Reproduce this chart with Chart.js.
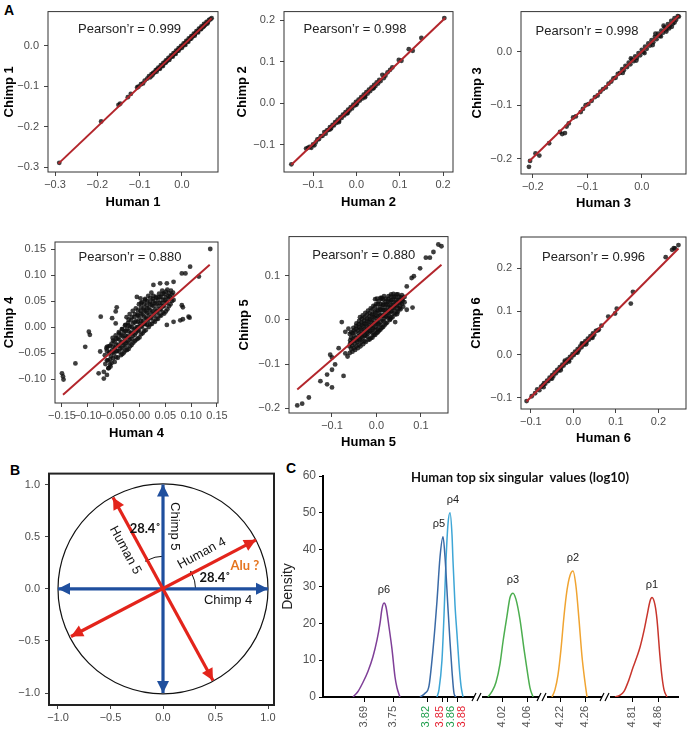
<!DOCTYPE html>
<html lang="en">
<head>
<meta charset="UTF-8">
<title>Human vs chimp singular vectors</title>
<script src="https://cdn.jsdelivr.net/npm/chart.js"></script>
<style>
  html, body { margin: 0; padding: 0; background: #fff; overflow: hidden; }
  body { width: 690px; height: 730px; position: relative; }
  .tag { position: absolute; font: bold 14px/14px "Liberation Sans", Arial, sans-serif; color: #000; }
</style>
</head>
<body>
<div class="tag" style="left:4px;top:3px">A</div>
<div class="tag" style="left:10px;top:463px">B</div>
<div class="tag" style="left:286px;top:461px">C</div>
<script>
// ---------- panel A data ----------
const pearson = ['0.999', '0.998', '0.998', '0.880', '0.880', '0.996'];
const humanNames = ['Human 1', 'Human 2', 'Human 3', 'Human 4', 'Human 5', 'Human 6'];
const chimpNames = ['Chimp 1', 'Chimp 2', 'Chimp 3', 'Chimp 4', 'Chimp 5', 'Chimp 6'];

const ticks1X = [-0.3, -0.2, -0.1, 0.0];
const ticks1Y = [-0.3, -0.2, -0.1, 0.0];
const ticks2X = [-0.1, 0.0, 0.1, 0.2];
const ticks2Y = [-0.1, 0.0, 0.1, 0.2];
const ticks3X = [-0.2, -0.1, 0.0];
const ticks3Y = [-0.2, -0.1, 0.0];
const ticks4X = [-0.15, -0.10, -0.05, 0.00, 0.05, 0.10, 0.15];
const ticks4Y = [-0.10, -0.05, 0.00, 0.05, 0.10, 0.15];
const ticks5X = [-0.1, 0.0, 0.1];
const ticks5Y = [-0.2, -0.1, 0.0, 0.1];
const ticks6X = [-0.1, 0.0, 0.1, 0.2];
const ticks6Y = [-0.1, 0.0, 0.1, 0.2];

const fit1 = [[-0.292, -0.291], [0.070, 0.068]];
const fit2 = [[-0.150, -0.149], [0.205, 0.205]];
const fit3 = [[-0.207, -0.205], [0.068, 0.067]];
const fit4 = [[-0.148, -0.130], [0.136, 0.120]];
const fit5 = [[-0.178, -0.158], [0.146, 0.125]];
const fit6 = [[-0.110, -0.108], [0.247, 0.245]];

const pts1 = [
  [-0.290,-0.289],[-0.191,-0.187],[-0.150,-0.146],[-0.146,-0.143],[-0.128,-0.127],[-0.121,-0.119],[-0.106,-0.103],
  [-0.103,-0.101],[-0.097,-0.095],[-0.092,-0.093],[-0.088,-0.086],[-0.082,-0.081],[-0.078,-0.075],[-0.075,-0.078],
  [-0.072,-0.070],[-0.068,-0.067],[-0.065,-0.066],[-0.062,-0.060],[-0.059,-0.059],[-0.056,-0.054],[-0.053,-0.055],
  [-0.050,-0.048],[-0.047,-0.049],[-0.044,-0.042],[-0.041,-0.043],[-0.038,-0.036],[-0.035,-0.037],[-0.032,-0.030],
  [-0.029,-0.031],[-0.026,-0.024],[-0.023,-0.025],[-0.020,-0.018],[-0.017,-0.019],[-0.014,-0.012],[-0.011,-0.013],
  [-0.008,-0.006],[-0.005,-0.007],[-0.002,0.000],[0.001,-0.001],[0.004,0.006],[0.007,0.005],[0.010,0.012],
  [0.013,0.011],[0.016,0.018],[0.019,0.017],[0.022,0.024],[0.025,0.023],[0.028,0.030],[0.031,0.029],[0.034,0.036],
  [0.037,0.035],[0.040,0.042],[0.043,0.041],[0.046,0.048],[0.049,0.046],[0.052,0.054],[0.055,0.052],[0.058,0.059],
  [0.061,0.058],[0.064,0.064],[0.067,0.065],[0.070,0.068],[-0.060,-0.064],[-0.045,-0.050],[-0.030,-0.035],
  [-0.015,-0.020],[0.000,-0.005],[0.015,0.010],[0.030,0.025],[0.045,0.041],[0.060,0.055],[-0.070,-0.073],
  [-0.052,-0.057],[-0.038,-0.041],[-0.022,-0.027],[-0.008,-0.012],[0.008,0.002],[0.022,0.018],[0.038,0.033],[0.052,0.048]
];
const pts2 = [
  [-0.150,-0.148],[-0.116,-0.110],[-0.112,-0.108],[-0.108,-0.106],[-0.104,-0.108],[-0.100,-0.100],[-0.097,-0.102],
  [-0.094,-0.095],[-0.090,-0.088],[-0.086,-0.087],[-0.082,-0.080],[-0.078,-0.079],[-0.074,-0.070],[-0.071,-0.074],
  [-0.068,-0.066],[-0.064,-0.065],[-0.061,-0.058],[-0.058,-0.060],[-0.055,-0.053],[-0.052,-0.054],[-0.049,-0.046],
  [-0.046,-0.048],[-0.043,-0.040],[-0.040,-0.043],[-0.037,-0.034],[-0.034,-0.036],[-0.031,-0.028],[-0.028,-0.030],
  [-0.025,-0.022],[-0.022,-0.025],[-0.019,-0.016],[-0.016,-0.018],[-0.013,-0.010],[-0.010,-0.013],[-0.007,-0.004],
  [-0.004,-0.006],[-0.001,0.003],[0.002,0.000],[0.005,0.008],[0.008,0.006],[0.011,0.014],[0.014,0.011],[0.017,0.020],
  [0.020,0.017],[0.023,0.026],[0.026,0.023],[0.029,0.032],[0.032,0.029],[0.035,0.038],[0.038,0.035],[0.041,0.044],
  [0.044,0.041],[0.047,0.050],[0.050,0.047],[0.053,0.056],[0.056,0.053],[0.060,0.068],[0.063,0.060],[0.067,0.066],
  [0.072,0.074],[0.078,0.080],[0.083,0.086],[0.098,0.104],[0.104,0.102],[0.121,0.130],[0.130,0.126],[0.150,0.157],
  [0.203,0.205],[-0.020,-0.024],[0.000,-0.004],[0.020,0.014],[0.040,0.036],[-0.040,-0.046],[-0.060,-0.063]
];
const pts3 = [
  [-0.207,-0.215],[-0.205,-0.204],[-0.195,-0.190],[-0.188,-0.194],[-0.170,-0.171],[-0.150,-0.150],[-0.146,-0.154],
  [-0.141,-0.152],[-0.138,-0.140],[-0.134,-0.134],[-0.126,-0.123],[-0.121,-0.121],[-0.112,-0.113],[-0.108,-0.107],
  [-0.103,-0.100],[-0.098,-0.098],[-0.092,-0.092],[-0.086,-0.085],[-0.081,-0.082],[-0.076,-0.075],[-0.071,-0.070],
  [-0.066,-0.067],[-0.061,-0.060],[-0.056,-0.056],[-0.052,-0.050],[-0.048,-0.049],[-0.044,-0.042],[-0.040,-0.040],
  [-0.036,-0.033],[-0.033,-0.035],[-0.030,-0.027],[-0.027,-0.029],[-0.024,-0.021],[-0.021,-0.024],[-0.018,-0.015],
  [-0.015,-0.018],[-0.012,-0.009],[-0.009,-0.012],[-0.006,-0.003],[-0.003,-0.007],[0.000,0.003],[0.003,-0.001],
  [0.006,0.009],[0.009,0.005],[0.012,0.015],[0.015,0.011],[0.018,0.021],[0.021,0.017],[0.024,0.027],[0.027,0.023],
  [0.030,0.033],[0.033,0.029],[0.036,0.039],[0.039,0.035],[0.042,0.045],[0.045,0.041],[0.048,0.051],[0.051,0.047],
  [0.054,0.057],[0.057,0.052],[0.060,0.062],[0.063,0.059],[0.066,0.066],[0.068,0.065],[-0.010,-0.017],[0.005,-0.003],
  [0.020,0.012],[0.035,0.028],[0.050,0.043],[0.055,0.046],[0.040,0.048],[0.025,0.033],[-0.020,-0.013],[-0.035,-0.040],
  [0.060,0.054],[0.045,0.037]
];
const pts4 = [
  [0.137,0.150],[0.098,0.116],[0.115,0.097],[0.082,0.103],[0.089,0.103],[0.066,0.087],[0.053,0.084],[0.040,0.084],
  [0.027,0.081],[0.082,0.042],[0.084,0.038],[0.079,0.013],[0.084,0.015],[0.095,0.020],[0.097,0.018],[0.066,0.010],
  [0.053,0.004],[-0.075,0.020],[-0.053,0.017],[-0.046,0.007],[-0.098,-0.009],[-0.096,-0.015],[-0.105,-0.038],
  [-0.124,-0.070],[-0.150,-0.089],[-0.147,-0.101],[-0.148,-0.095],[-0.079,-0.089],[-0.069,-0.086],[-0.069,-0.099],
  [-0.063,-0.092],[-0.060,-0.079],[-0.056,-0.076],[-0.076,-0.047],[-0.063,-0.038],[-0.046,0.030],[-0.044,0.038],
  [0.011,0.052],[0.002,0.055],[-0.005,0.058],
  [-0.066,-0.071],[-0.067,-0.054],[-0.064,-0.041],
  [-0.060,-0.079],[-0.061,-0.064],[-0.059,-0.050],[-0.060,-0.037],
  [-0.054,-0.069],[-0.055,-0.056],[-0.053,-0.045],[-0.054,-0.032],[-0.052,-0.021],
  [-0.048,-0.067],[-0.049,-0.051],[-0.047,-0.040],[-0.048,-0.028],[-0.046,-0.016],
  [-0.042,-0.059],[-0.043,-0.046],[-0.041,-0.034],[-0.042,-0.022],[-0.040,-0.010],
  [-0.036,-0.054],[-0.037,-0.041],[-0.035,-0.029],[-0.036,-0.016],[-0.034,-0.004],
  [-0.030,-0.049],[-0.031,-0.035],[-0.029,-0.022],[-0.030,-0.010],[-0.028,0.003],
  [-0.024,-0.044],[-0.025,-0.030],[-0.023,-0.017],[-0.024,-0.004],[-0.022,0.008],[-0.025,0.019],
  [-0.018,-0.037],[-0.019,-0.024],[-0.017,-0.011],[-0.018,0.001],[-0.016,0.013],[-0.019,0.025],
  [-0.012,-0.030],[-0.013,-0.017],[-0.011,-0.005],[-0.012,0.007],[-0.010,0.019],[-0.013,0.031],
  [-0.006,-0.024],[-0.007,-0.011],[-0.005,0.000],[-0.006,0.012],[-0.004,0.024],[-0.007,0.036],
  [0.000,-0.020],[-0.001,-0.006],[0.001,0.006],[0.000,0.018],[0.002,0.031],[-0.001,0.044],
  [0.006,-0.012],[0.005,0.000],[0.007,0.012],[0.006,0.024],[0.008,0.036],[0.005,0.048],
  [0.012,-0.006],[0.011,0.006],[0.013,0.018],[0.012,0.030],[0.014,0.042],[0.011,0.054],
  [0.018,0.000],[0.017,0.012],[0.019,0.024],[0.018,0.036],[0.020,0.048],[0.017,0.060],
  [0.024,0.006],[0.023,0.018],[0.025,0.030],[0.024,0.042],[0.026,0.054],[0.023,0.066],
  [0.030,0.010],[0.029,0.022],[0.031,0.034],[0.030,0.046],[0.032,0.058],
  [0.036,0.016],[0.035,0.028],[0.037,0.040],[0.036,0.052],[0.038,0.064],
  [0.042,0.022],[0.041,0.034],[0.043,0.046],[0.042,0.058],[0.044,0.070],
  [0.048,0.026],[0.047,0.040],[0.049,0.052],[0.048,0.064],
  [0.054,0.034],[0.053,0.048],[0.055,0.060],[0.054,0.072],
  [0.060,0.044],[0.059,0.058],[0.061,0.070],[0.066,0.052],[0.065,0.066],
  [-0.045,-0.058],[-0.039,-0.047],[-0.033,-0.041],[-0.027,-0.027],[-0.021,-0.020],[-0.015,-0.023],[-0.009,-0.003],
  [-0.003,0.010],[0.003,0.002],[0.009,0.020],[0.015,0.027],[0.021,0.032],[0.027,0.040],[0.033,0.045],[0.039,0.058],
  [0.045,0.052],[0.051,0.057],[0.057,0.065],[-0.057,-0.062],[-0.051,-0.038],[0.003,0.038],[0.015,0.004],
  [-0.027,-0.008],[0.033,0.016],
  [-0.063,-0.064],[-0.063,-0.046],[-0.057,-0.072],[-0.057,-0.048],[-0.057,-0.036],[-0.051,-0.060],[-0.051,-0.048],
  [-0.051,-0.026],[-0.045,-0.046],[-0.045,-0.034],[-0.045,-0.022],[-0.039,-0.036],[-0.039,-0.024],[-0.039,-0.012],
  [-0.033,-0.052],[-0.033,-0.030],[-0.033,-0.017],[-0.033,-0.004],[-0.027,-0.045],[-0.027,-0.036],[-0.027,-0.017],
  [-0.027,0.004],[-0.021,-0.042],[-0.021,-0.030],[-0.021,-0.008],[-0.021,0.003],[-0.021,0.014],[-0.015,-0.034],
  [-0.015,-0.012],[-0.015,0.000],[-0.015,0.019],[-0.009,-0.027],[-0.009,-0.015],[-0.009,0.009],[-0.009,0.025],
  [-0.003,-0.022],[-0.003,-0.008],[-0.003,0.000],[-0.003,0.022],[-0.003,0.032],[0.003,-0.014],[0.003,0.012],
  [0.003,0.026],[0.003,0.046],[0.009,-0.008],[0.009,0.006],[0.009,0.032],[0.009,0.044],[0.015,0.015],[0.015,0.036],
  [0.015,0.050],[0.021,0.005],[0.021,0.018],[0.021,0.044],[0.021,0.056],[0.027,0.012],[0.027,0.026],[0.027,0.050],
  [0.027,0.060],[0.033,0.030],[0.033,0.056],[0.039,0.022],[0.039,0.034],[0.039,0.046],[0.045,0.028],[0.045,0.040],
  [0.045,0.064],[0.051,0.030],[0.051,0.046],[0.051,0.068],[0.057,0.040],[0.057,0.054],[0.063,0.050],[0.063,0.062]
];
const pts5 = [
  [0.139,0.171],[0.146,0.167],[0.128,0.154],[0.120,0.141],[0.111,0.141],[0.098,0.117],[0.079,0.095],[0.084,0.099],
  [0.068,0.076],[0.081,0.028],[0.068,0.023],[0.053,0.028],[0.012,0.050],[-0.003,0.047],[-0.078,-0.005],
  [-0.070,-0.027],[-0.085,-0.064],[-0.070,-0.076],[-0.065,-0.083],[-0.104,-0.079],[-0.100,-0.085],[-0.093,-0.101],
  [-0.100,-0.113],[-0.111,-0.124],[-0.126,-0.139],[-0.111,-0.146],[-0.100,-0.153],[-0.074,-0.127],[-0.152,-0.176],
  [-0.178,-0.194],[-0.167,-0.190],[-0.063,-0.020],[-0.059,-0.053],[0.031,0.002],[0.042,-0.005],[0.046,0.013],
  [-0.060,-0.075],[-0.061,-0.060],[-0.059,-0.046],[-0.060,-0.032],
  [-0.054,-0.072],[-0.055,-0.058],[-0.053,-0.044],[-0.054,-0.030],[-0.052,-0.018],
  [-0.048,-0.068],[-0.049,-0.054],[-0.047,-0.041],[-0.048,-0.028],[-0.046,-0.014],
  [-0.042,-0.064],[-0.043,-0.050],[-0.041,-0.037],[-0.042,-0.024],[-0.040,-0.010],
  [-0.036,-0.060],[-0.037,-0.046],[-0.035,-0.033],[-0.036,-0.020],[-0.034,-0.006],[-0.037,0.006],
  [-0.030,-0.055],[-0.031,-0.041],[-0.029,-0.028],[-0.030,-0.015],[-0.028,-0.002],[-0.031,0.010],
  [-0.024,-0.050],[-0.025,-0.036],[-0.023,-0.023],[-0.024,-0.010],[-0.022,0.003],[-0.025,0.016],
  [-0.018,-0.045],[-0.019,-0.031],[-0.017,-0.018],[-0.018,-0.005],[-0.016,0.008],[-0.019,0.021],
  [-0.012,-0.040],[-0.013,-0.026],[-0.011,-0.013],[-0.012,0.000],[-0.010,0.013],[-0.013,0.026],
  [-0.006,-0.034],[-0.007,-0.020],[-0.005,-0.007],[-0.006,0.006],[-0.004,0.019],[-0.007,0.032],
  [0.000,-0.030],[-0.001,-0.016],[0.001,-0.003],[0.000,0.010],[0.002,0.023],[-0.001,0.036],[0.001,0.048],
  [0.006,-0.024],[0.005,-0.010],[0.007,0.003],[0.006,0.016],[0.008,0.029],[0.005,0.042],
  [0.012,-0.018],[0.011,-0.004],[0.013,0.009],[0.012,0.022],[0.014,0.035],[0.011,0.048],
  [0.018,-0.012],[0.017,0.002],[0.019,0.015],[0.018,0.028],[0.020,0.041],[0.017,0.054],
  [0.024,-0.006],[0.023,0.008],[0.025,0.021],[0.024,0.034],[0.026,0.047],
  [0.030,0.000],[0.029,0.014],[0.031,0.027],[0.030,0.040],[0.032,0.053],
  [0.036,0.006],[0.035,0.020],[0.037,0.033],[0.036,0.046],[0.038,0.059],
  [0.042,0.012],[0.041,0.026],[0.043,0.039],[0.042,0.052],
  [0.048,0.018],[0.047,0.032],[0.049,0.045],[0.048,0.058],
  [0.054,0.024],[0.053,0.038],[0.055,0.051],[0.060,0.030],[0.059,0.044],
  [-0.045,-0.060],[-0.039,-0.030],[-0.033,-0.050],[-0.027,-0.008],[-0.021,-0.038],[-0.015,0.002],[-0.009,-0.030],
  [-0.003,0.016],[0.003,-0.020],[0.009,0.024],[0.015,-0.002],[0.021,0.036],[0.027,0.004],[0.033,0.045],
  [0.039,0.015],[0.045,0.034],[0.051,0.040],[-0.057,-0.052],[-0.051,-0.024],[0.057,0.036],
  [-0.057,-0.066],[-0.057,-0.040],[-0.057,-0.028],[-0.051,-0.064],[-0.051,-0.048],[-0.051,-0.036],[-0.045,-0.046],
  [-0.045,-0.020],[-0.045,-0.008],[-0.039,-0.056],[-0.039,-0.043],[-0.039,-0.016],[-0.039,-0.002],[-0.033,-0.038],
  [-0.033,-0.024],[-0.033,-0.011],[-0.033,0.002],[-0.027,-0.048],[-0.027,-0.034],[-0.027,-0.020],[-0.027,0.006],
  [-0.021,-0.028],[-0.021,-0.015],[-0.021,-0.002],[-0.021,0.012],[-0.015,-0.044],[-0.015,-0.024],[-0.015,-0.010],
  [-0.015,0.016],[-0.009,-0.040],[-0.009,-0.018],[-0.009,-0.004],[-0.009,0.010],[-0.009,0.024],[-0.003,-0.034],
  [-0.003,-0.024],[-0.003,-0.010],[-0.003,0.004],[-0.003,0.030],[0.003,-0.028],[0.003,-0.006],[0.003,0.008],
  [0.003,0.021],[0.003,0.036],[0.009,-0.022],[0.009,-0.012],[0.009,0.010],[0.009,0.036],[0.009,0.050],
  [0.015,-0.016],[0.015,0.010],[0.015,0.022],[0.015,0.034],[0.015,0.046],[0.021,-0.008],[0.021,0.008],
  [0.021,0.022],[0.021,0.048],[0.027,0.016],[0.027,0.030],[0.027,0.042],[0.027,0.054],[0.033,0.006],[0.033,0.020],
  [0.033,0.033],[0.033,0.058],[0.039,0.028],[0.039,0.040],[0.039,0.052],[0.045,0.020],[0.045,0.046],[0.045,0.058],
  [0.051,0.026],[0.051,0.052],[0.057,0.046],[0.057,0.056],[0.063,0.040],[0.063,0.052]
];
const pts6 = [
  [-0.110,-0.107],[-0.098,-0.096],[-0.090,-0.089],[-0.085,-0.080],[-0.080,-0.082],[-0.076,-0.074],[-0.072,-0.071],
  [-0.069,-0.066],[-0.066,-0.067],[-0.062,-0.060],[-0.059,-0.061],[-0.056,-0.053],[-0.053,-0.055],[-0.050,-0.047],
  [-0.047,-0.049],[-0.044,-0.041],[-0.041,-0.043],[-0.038,-0.035],[-0.035,-0.037],[-0.032,-0.029],[-0.029,-0.031],
  [-0.026,-0.023],[-0.023,-0.025],[-0.020,-0.017],[-0.017,-0.019],[-0.014,-0.011],[-0.011,-0.013],[-0.008,-0.005],
  [-0.005,-0.007],[-0.002,0.001],[0.001,-0.001],[0.004,0.007],[0.007,0.005],[0.010,0.013],[0.013,0.011],
  [0.016,0.019],[0.019,0.017],[0.022,0.025],[0.025,0.023],[0.028,0.031],[0.031,0.029],[0.034,0.037],[0.037,0.035],
  [0.040,0.043],[0.043,0.040],[0.046,0.049],[0.049,0.046],[0.053,0.055],[0.057,0.056],[0.060,0.058],[0.066,0.067],
  [0.082,0.088],[0.098,0.095],[0.102,0.106],[0.135,0.118],[0.140,0.145],[0.217,0.225],[0.232,0.242],[0.236,0.246],
  [0.239,0.245],[0.247,0.253],[-0.030,-0.036],[-0.010,-0.016],[0.010,0.005],[0.030,0.024],[-0.050,-0.055],
  [0.045,0.039],[-0.070,-0.075],[0.020,0.026],[-0.020,-0.014]
];

// ---------- panel B data ----------
const arrowHuman4 = [[-0.876, -0.457], [0.886, 0.470]];
const arrowHuman5 = [[0.476, -0.880], [-0.476, 0.876]];
const arrowChimp4 = [[-1.0, 0.0], [1.0, 0.0]];
const arrowChimp5 = [[0.0, -1.0], [0.0, 1.0]];
const ticksB = [-1.0, -0.5, 0.0, 0.5, 1.0];
const angleDeg = 28.4;

// ---------- panel C data (log10 singular value, density) ----------
const rhoNames = ['\u03c16', '\u03c15', '\u03c14', '\u03c13', '\u03c12', '\u03c11'];
const rho6X = [3.6675, 3.6777, 3.6880, 3.6982, 3.7084, 3.7166, 3.7227, 3.7268, 3.7309, 3.7349, 3.7411, 3.7472, 3.7533, 3.7574, 3.7635];
const rho6Y = [0, 1.5, 4, 7, 11, 15.5, 20, 24, 25.5, 24.5, 19, 13, 5.5, 2.5, 0];
const rho5X = [3.8044, 3.8146, 3.8228, 3.8289, 3.8350, 3.8391, 3.8453, 3.8514, 3.8555, 3.8616, 3.8657, 3.8698, 3.8739, 3.8780];
const rho5Y = [0, 1, 3, 10, 19, 26, 38, 43.5, 38, 24, 15, 7, 1, 0];
const rho4X = [3.8391, 3.8432, 3.8493, 3.8534, 3.8575, 3.8616, 3.8657, 3.8698, 3.8718, 3.8759, 3.8800, 3.8841, 3.8882, 3.8922];
const rho4Y = [0, 2, 10, 22, 37, 47, 50, 44, 37, 25, 17, 9, 3, 0];
const rho3X = [3.9976, 4.0040, 4.0104, 4.0168, 4.0216, 4.0280, 4.0328, 4.0376, 4.0424, 4.0488, 4.0552, 4.0600, 4.0648, 4.0696];
const rho3Y = [0, 1.5, 4, 9, 15, 22, 27, 28.2, 26.5, 21, 13, 7.5, 2.5, 0];
const rho2X = [4.2072, 4.2120, 4.2168, 4.2216, 4.2264, 4.2312, 4.2360, 4.2408, 4.2456, 4.2504, 4.2552, 4.2600, 4.2632];
const rho2Y = [0, 2, 6, 13, 22, 29, 33, 34.2, 30, 21, 11, 4, 0];
const rho1X = [4.7773, 4.7869, 4.7946, 4.8023, 4.8119, 4.8196, 4.8254, 4.8331, 4.8388, 4.8446, 4.8485, 4.8542, 4.8581, 4.8638, 4.8677, 4.8715, 4.8773];
const rho1Y = [0, 0.5, 1.5, 4, 8, 11, 13.5, 18, 22, 26, 27, 25, 21, 11, 5.5, 2, 0];
const cTickLabels = ['3.69', '3.75', '3.82', '3.85', '3.86', '3.88', '4.02', '4.06', '4.22', '4.26', '4.81', '4.86'];
const ticksCY = [0, 10, 20, 30, 40, 50, 60];

// ---------- styling / layout ----------
const FONT = '"Liberation Sans", Arial, sans-serif';
const CAL = 'Lato, "Open Sans", sans-serif';
Chart.defaults.font.family = FONT;

const rhoColors = ['#7f3f98', '#3a6aa6', '#3ea6d6', '#4cae4f', '#f0a431', '#c8352c'];
const rhoLabelDx = [0, -4, 3, 0, 0, 0];
const cTickColor = { '3.82': '#1d9e4b', '3.86': '#1d9e4b', '3.85': '#e41f2f', '3.88': '#e41f2f' };
const cTickDx = { '3.82': -2, '3.85': -2, '3.86': 3.5, '3.88': 5 };
// broken x-axis: real value -> position along axis (px of the 690 wide figure)
const cSegments = [
  { lo: 3.60, hi: 3.95, at: 3.69, px: 364, k: 489.5 },
  { lo: 3.95, hi: 4.15, at: 4.02, px: 502, k: 625 },
  { lo: 4.15, hi: 4.50, at: 4.22, px: 560, k: 625 },
  { lo: 4.50, hi: 5.00, at: 4.81, px: 632, k: 520 }
];
const cBreaks = [478, 543, 606];
function toAxis(v) {
  const s = cSegments.find(g => v >= g.lo && v < g.hi);
  return s.px + (v - s.at) * s.k;
}

const panels = [
  { pts: pts1, fit: fit1, tx: ticks1X, ty: ticks1Y, dec: 1, xr: [-0.3166, 0.0851], yr: [-0.3117, 0.0844],
    box: { left: 0, top: 0, w: 222, h: 212, yw: 48, pt: 3, pr: 4, xh: 40 }, note: [0.48, 18] },
  { pts: pts2, fit: fit2, tx: ticks2X, ty: ticks2Y, dec: 1, xr: [-0.167, 0.223], yr: [-0.1664, 0.2206],
    box: { left: 233, top: 0, w: 224, h: 212, yw: 51, pt: 3, pr: 4, xh: 40 }, note: [0.42, 18] },
  { pts: pts3, fit: fit3, tx: ticks3X, ty: ticks3Y, dec: 1, xr: [-0.2216, 0.0811], yr: [-0.2283, 0.0743],
    box: { left: 468, top: 0, w: 222, h: 213, yw: 53, pt: 3, pr: 1, xh: 39 }, note: [0.40, 20] },
  { pts: pts4, fit: fit4, tx: ticks4X, ty: ticks4Y, dec: 2, xr: [-0.1635, 0.152], yr: [-0.146, 0.1635],
    box: { left: 0, top: 230, w: 240, h: 213, yw: 55, pt: 12, pr: 22, xh: 40 }, note: [0.46, 15] },
  { pts: pts5, fit: fit5, tx: ticks5X, ty: ticks5Y, dec: 1, xr: [-0.1966, 0.1607], yr: [-0.2111, 0.1889],
    box: { left: 235, top: 225, w: 225, h: 227, yw: 54, pt: 8, pr: 12, xh: 39 }, note: [0.47, 19] },
  { pts: pts6, fit: fit6, tx: ticks6X, ty: ticks6Y, dec: 1, xr: [-0.1231, 0.2647], yr: [-0.1254, 0.2716],
    box: { left: 467, top: 225, w: 223, h: 223, yw: 54, pt: 12, pr: 1, xh: 39 }, note: [0.44, 20] }
];

function makeCanvas(b) {
  const c = document.createElement('canvas');
  c.width = b.w; c.height = b.h;
  c.style.cssText = `position:absolute;left:${b.left}px;top:${b.top}px;width:${b.w}px;height:${b.h}px`;
  document.body.appendChild(c);
  return c;
}
function fmt(d) {
  return v => (v < -1e-9 ? '\u2212' : '') + Math.abs(v).toFixed(d);
}
function xy(arr) { return arr.map(p => ({ x: p[0], y: p[1] })); }

function axis(ticks, range, dec, title, size, isX) {
  return {
    type: 'linear', min: range[0], max: range[1],
    afterFit: s => { if (isX) s.height = size; else s.width = size; },
    afterBuildTicks: s => { s.ticks = ticks.map(v => ({ value: v })); },
    ticks: { callback: fmt(dec), autoSkip: false, maxRotation: 0, color: '#4d4d4d',
             font: { size: 11, family: FONT }, padding: isX ? 2 : 5 },
    grid: { drawOnChartArea: false, tickLength: 4, color: '#444' },
    border: { display: false },
    title: title ? { display: true, text: title, color: '#000',
             font: { size: 13, weight: 'bold', family: FONT }, padding: { top: 2, bottom: 2 } } : { display: false }
  };
}

const framePlugin = (w, col) => ({
  id: 'frame',
  afterDraw(ch) {
    const a = ch.chartArea, c = ch.ctx;
    c.save(); c.strokeStyle = col; c.lineWidth = w;
    c.strokeRect(a.left, a.top, a.right - a.left, a.bottom - a.top);
    c.restore();
  }
});

// ---------- panel A ----------
panels.forEach((p, i) => {
  const b = p.box;
  new Chart(makeCanvas(b), {
    type: 'scatter',
    data: { datasets: [
      { data: xy(p.fit), showLine: true, borderColor: '#b3262c', borderWidth: 2, pointRadius: 0, order: 0 },
      { data: xy(p.pts), pointRadius: 2.4, pointBorderWidth: 0, pointBackgroundColor: 'rgba(15,15,15,0.8)', order: 1 }
    ] },
    options: {
      responsive: false, animation: false, events: [], devicePixelRatio: 1,
      layout: { padding: { top: b.pt, right: b.pr, left: 0, bottom: 0 } },
      plugins: { legend: { display: false }, tooltip: { enabled: false } },
      scales: {
        x: axis(p.tx, p.xr, p.dec, humanNames[i], b.xh, true),
        y: axis(p.ty, p.yr, p.dec, chimpNames[i], b.yw, false)
      }
    },
    plugins: [framePlugin(1, '#333'), {
      id: 'pearson',
      afterDraw(ch) {
        const a = ch.chartArea, c = ch.ctx;
        c.save(); c.fillStyle = '#222'; c.font = '13px ' + FONT;
        c.textAlign = 'center'; c.textBaseline = 'middle';
        c.fillText('Pearson\u2019r = ' + pearson[i], a.left + p.note[0] * (a.right - a.left), a.top + p.note[1]);
        c.restore();
      }
    }]
  });
});

// ---------- panel B ----------
const bBox = { left: 0, top: 462, w: 284, h: 268, yw: 49, pt: 10, pr: 10, xh: 25 };
const bLabels = [
  { text: 'Chimp 5', x: 0.11, y: 0.60, rot: 90, font: '13px ' + FONT, color: '#111' },
  { text: 'Human 5', x: -0.36, y: 0.37, rot: 61.6, font: '13px ' + FONT, color: '#111' },
  { text: 'Human 4', x: 0.37, y: 0.34, rot: -28.4, font: '13px ' + FONT, color: '#111' },
  { text: 'Chimp 4', x: 0.62, y: -0.114, rot: 0, font: '13px ' + FONT, color: '#111' },
  { text: '28.4\u02da', x: -0.17, y: 0.58, rot: 0, font: 'bold 13px ' + CAL, color: '#111' },
  { text: '28.4\u02da', x: 0.495, y: 0.105, rot: 0, font: 'bold 13px ' + CAL, color: '#111' },
  { text: 'Alu ?', x: 0.78, y: 0.22, rot: 0, font: 'bold 13px ' + CAL, color: '#e5751f' }
];
const BLUE = '#1f4f9e', RED = '#e3241b';
new Chart(makeCanvas(bBox), {
  type: 'scatter',
  data: { datasets: [
    { data: xy(arrowHuman4), borderColor: RED, order: 0 },
    { data: xy(arrowHuman5), borderColor: RED, order: 0 },
    { data: xy(arrowChimp4), borderColor: BLUE, order: 1 },
    { data: xy(arrowChimp5), borderColor: BLUE, order: 1 }
  ].map(d => Object.assign(d, { showLine: true, pointRadius: 0, borderWidth: 3.2, borderCapStyle: 'butt' })) },
  options: {
    responsive: false, animation: false, events: [], devicePixelRatio: 1,
    layout: { padding: { top: bBox.pt, right: bBox.pr, left: 0, bottom: 0 } },
    plugins: { legend: { display: false }, tooltip: { enabled: false } },
    scales: {
      x: axis(ticksB, [-1.0857, 1.057], 1, null, bBox.xh, true),
      y: axis(ticksB, [-1.114, 1.1048], 1, null, bBox.yw, false)
    }
  },
  plugins: [framePlugin(2, '#222'), {
    id: 'circle',
    beforeDatasetsDraw(ch) {
      const xs = ch.scales.x, ys = ch.scales.y, c = ch.ctx;
      const cx = xs.getPixelForValue(0), cy = ys.getPixelForValue(0);
      const r = xs.getPixelForValue(1) - cx;
      c.save(); c.strokeStyle = '#111'; c.lineWidth = 1.2;
      c.beginPath(); c.arc(cx, cy, r, 0, 2 * Math.PI); c.stroke();
      // angle markers
      const rr = 0.31 * r, t = angleDeg * Math.PI / 180;
      c.lineWidth = 1;
      [[-t, 0], [-Math.PI / 2 - t, -Math.PI / 2]].forEach(([a0, a1]) => {
        c.beginPath(); c.arc(cx, cy, rr, a0, a1); c.stroke();
        const px = cx + rr * Math.cos(a0), py = cy + rr * Math.sin(a0);
        const dx = Math.sin(a0), dy = -Math.cos(a0);
        c.beginPath();
        c.moveTo(px + dx * 3, py + dy * 3);
        c.lineTo(px - dx * 1 - dy * 2.5, py - dy * 1 + dx * 2.5);
        c.lineTo(px - dx * 1 + dy * 2.5, py - dy * 1 - dx * 2.5);
        c.closePath(); c.fillStyle = '#111'; c.fill();
      });
      c.restore();
    },
    afterDatasetsDraw(ch) {
      const c = ch.ctx;
      ch.data.datasets.forEach((d, i) => {
        const pts = ch.getDatasetMeta(i).data;
        [[pts[0], pts[1]], [pts[1], pts[0]]].forEach(([from, tip]) => {
          const ang = Math.atan2(tip.y - from.y, tip.x - from.x);
          c.save(); c.translate(tip.x, tip.y); c.rotate(ang);
          c.beginPath(); c.moveTo(0, 0); c.lineTo(-12, -6); c.lineTo(-12, 6); c.closePath();
          c.fillStyle = d.borderColor; c.fill(); c.restore();
        });
      });
      const xs = ch.scales.x, ys = ch.scales.y;
      bLabels.forEach(l => {
        c.save();
        c.translate(xs.getPixelForValue(l.x), ys.getPixelForValue(l.y));
        c.rotate(l.rot * Math.PI / 180);
        c.font = l.font; c.fillStyle = l.color; c.textAlign = 'center'; c.textBaseline = 'middle';
        c.fillText(l.text, 0, 0);
        c.restore();
      });
    }
  }]
});

// ---------- panel C ----------
const cBox = { left: 280, top: 462, w: 410, h: 268, yw: 43, pt: 14, pr: 12, xh: 33 };
const rhoX = [rho6X, rho5X, rho4X, rho3X, rho2X, rho1X];
const rhoY = [rho6Y, rho5Y, rho4Y, rho3Y, rho2Y, rho1Y];
new Chart(makeCanvas(cBox), {
  type: 'scatter',
  data: { datasets: rhoX.map((xs, i) => ({
    data: xs.map((v, j) => ({ x: toAxis(v), y: rhoY[i][j] })),
    showLine: true, pointRadius: 0, borderWidth: 1.5, borderColor: rhoColors[i],
    cubicInterpolationMode: 'monotone'
  })) },
  options: {
    responsive: false, animation: false, events: [], devicePixelRatio: 1,
    layout: { padding: { top: cBox.pt, right: cBox.pr, left: 0, bottom: 0 } },
    plugins: { legend: { display: false }, tooltip: { enabled: false } },
    scales: {
      x: {
        type: 'linear', min: 323, max: 678,
        afterFit: s => { s.height = cBox.xh; },
        afterBuildTicks: s => { s.ticks = cTickLabels.map(l => ({ value: toAxis(parseFloat(l)) })); },
        ticks: { display: false },
        grid: { drawOnChartArea: false, tickLength: 5, color: '#000' },
        border: { display: true, color: '#000', width: 2 }
      },
      y: {
        type: 'linear', min: 0, max: 60,
        afterFit: s => { s.width = cBox.yw; },
        afterBuildTicks: s => { s.ticks = ticksCY.map(v => ({ value: v })); },
        ticks: { color: '#555', font: { size: 12, family: FONT }, padding: 3 },
        grid: { drawOnChartArea: false, tickLength: 4, color: '#000' },
        border: { display: true, color: '#000', width: 2 },
        title: { display: true, text: 'Density', color: '#222', font: { size: 14, family: FONT }, padding: { top: 0, bottom: 0 } }
      }
    }
  },
  plugins: [{
    id: 'decor',
    afterDraw(ch) {
      const c = ch.ctx, a = ch.chartArea, xs = ch.scales.x;
      // axis breaks
      cBreaks.forEach(v => {
        const x = xs.getPixelForValue(v), y = a.bottom;
        c.save();
        c.fillStyle = '#fff'; c.fillRect(x - 4, y - 3, 8, 6);
        c.strokeStyle = '#000'; c.lineWidth = 1.2;
        c.beginPath();
        c.moveTo(x - 6, y + 4); c.lineTo(x - 2, y - 4);
        c.moveTo(x - 1, y + 4); c.lineTo(x + 3, y - 4);
        c.stroke(); c.restore();
      });
      // rotated tick labels
      cTickLabels.forEach(l => {
        const x = xs.getPixelForValue(toAxis(parseFloat(l))) + (cTickDx[l] || 0);
        c.save(); c.translate(x, a.bottom + 9); c.rotate(-Math.PI / 2);
        c.font = '11px ' + FONT; c.fillStyle = cTickColor[l] || '#555';
        c.textAlign = 'right'; c.textBaseline = 'middle';
        c.fillText(l, 0, 0); c.restore();
      });
      // peak labels
      ch.data.datasets.forEach((d, i) => {
        const ys = rhoY[i], k = ys.indexOf(Math.max(...ys));
        const pt = ch.getDatasetMeta(i).data[k];
        c.save(); c.font = '11px ' + FONT; c.fillStyle = '#222';
        c.textAlign = 'center'; c.textBaseline = 'middle';
        c.fillText(rhoNames[i], pt.x + rhoLabelDx[i], pt.y - 13); c.restore();
      });
      // title
      c.save(); c.font = 'bold 13px ' + CAL; c.fillStyle = '#111';
      c.textAlign = 'center'; c.textBaseline = 'middle';
      c.fillText('Human top six singular  values (log10)', 240, 16); c.restore();
    }
  }]
});
</script>
</body>
</html>
